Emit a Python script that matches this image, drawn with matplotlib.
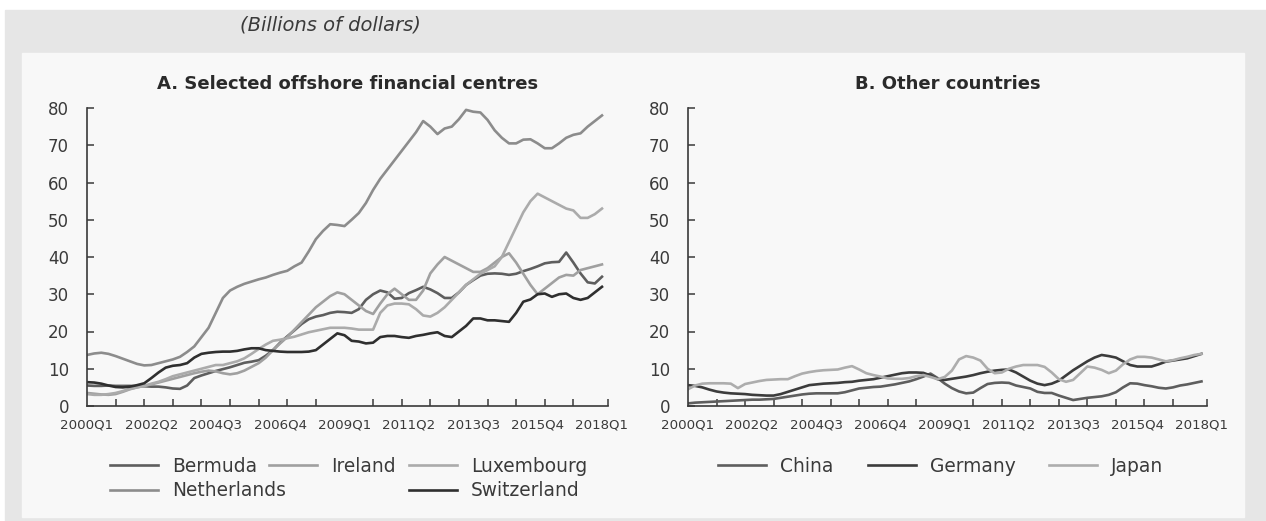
import matplotlib
matplotlib.use("Agg")
import matplotlib.pyplot as plt
from matplotlib.patches import Rectangle
from matplotlib.lines import Line2D

# quarterly, 2000Q1 .. 2018Q1 (73 points)
quarters = [f"{2000 + i // 4}Q{i % 4 + 1}" for i in range(73)]

bermuda = [5.5, 5.4, 5.4, 5.5, 5.4, 5.4, 5.4, 5.3, 5.3, 5.2, 5.2, 5.0, 4.7, 4.6, 5.5,
           7.5, 8.2, 8.8, 9.4, 9.9, 10.4, 11.0, 11.6, 11.9, 12.3, 13.5, 15.0, 17.0, 18.7,
           20.3, 22.0, 23.3, 24.0, 24.4, 25.0, 25.3, 25.2, 25.0, 26.0, 28.5, 30.0, 31.0,
           30.5, 28.8, 29.0, 30.3, 31.1, 32.0, 31.3, 30.3, 29.0, 29.0, 30.5, 32.5, 33.8,
           35.0, 35.5, 35.6, 35.5, 35.2, 35.5, 36.2, 36.8, 37.5, 38.3, 38.6, 38.7, 41.2,
           38.5, 35.6, 33.2, 32.9, 34.7]
ireland = [3.5, 3.3, 3.1, 3.0, 3.2, 3.8, 4.5, 5.0, 5.4, 5.8, 6.3, 6.8, 7.3, 7.8, 8.3,
           8.8, 9.2, 9.5, 9.3, 8.8, 8.5, 8.8, 9.5, 10.5, 11.5, 13.0, 15.0, 16.8, 18.5,
           20.5, 22.5, 24.5, 26.5, 28.0, 29.5, 30.5, 30.0, 28.5, 27.0, 25.5, 24.7, 27.5,
           30.0, 31.5, 30.0, 28.5, 28.5, 31.0, 35.6, 38.0, 40.0, 39.0, 38.0, 37.0, 36.0,
           36.0, 37.0, 38.5, 40.0, 41.0, 38.5, 35.5, 32.5, 30.0, 31.5, 33.0, 34.5, 35.2,
           35.0, 36.5, 37.0, 37.5, 38.0]
luxembourg = [3.2, 3.0, 3.0, 3.2, 3.5, 4.0, 4.6, 5.0, 5.4, 6.0, 6.5, 7.2, 8.0, 8.5, 9.0,
              9.5, 10.0, 10.5, 11.0, 11.0, 11.5, 12.0, 12.8, 14.0, 15.3, 16.5, 17.5, 17.8,
              18.2, 18.6, 19.2, 19.8, 20.2, 20.6, 21.0, 21.0, 21.0, 20.8, 20.5, 20.5, 20.5,
              25.0, 27.0, 27.5, 27.5, 27.3, 26.0, 24.3, 24.0, 25.0, 26.5, 28.5, 30.5, 32.5,
              34.0, 35.5, 36.5, 37.5, 40.0, 44.0, 48.0, 52.0, 55.0, 57.0, 56.0, 55.0, 54.0,
              53.0, 52.5, 50.5, 50.5, 51.5, 53.0]
netherlands = [13.7, 14.1, 14.3, 14.0, 13.4, 12.7, 12.0, 11.3, 10.9, 11.0, 11.5, 12.0, 12.5,
               13.2, 14.5, 16.0, 18.5, 21.0, 25.0, 29.0, 31.0, 32.0, 32.8, 33.4, 34.0, 34.5,
               35.2, 35.8, 36.3, 37.5, 38.5, 41.5, 44.8, 47.0, 48.8, 48.6, 48.3, 50.0, 51.8,
               54.5, 58.0, 61.0, 63.5, 66.0, 68.5, 71.0, 73.5, 76.5, 75.0, 73.0, 74.5, 75.0,
               77.0, 79.5, 79.0, 78.8, 76.8, 74.0, 72.0, 70.5, 70.5, 71.5, 71.6, 70.5, 69.2,
               69.2, 70.5, 72.0, 72.8, 73.2, 75.0, 76.5, 78.0]
switzerland = [6.4, 6.3, 6.0, 5.5, 5.1, 5.0, 5.2, 5.6, 6.1, 7.5, 9.0, 10.3, 10.8, 11.0, 11.5,
               13.0, 14.0, 14.3, 14.5, 14.6, 14.6, 14.8, 15.2, 15.5, 15.5, 15.0, 14.8, 14.6,
               14.5, 14.5, 14.5, 14.6, 15.0, 16.5, 18.0, 19.5, 19.0, 17.5, 17.3, 16.8, 17.0,
               18.5, 18.8, 18.8, 18.5, 18.3, 18.8, 19.1, 19.5, 19.8, 18.8, 18.5, 20.0, 21.5,
               23.5, 23.5, 23.0, 23.0, 22.8, 22.6, 25.0, 28.0, 28.6, 30.0, 30.2, 29.3, 30.0,
               30.2, 29.0, 28.5, 29.0, 30.5, 32.0]

china = [0.7, 0.9, 1.0, 1.1, 1.2, 1.3, 1.4, 1.5, 1.6, 1.7, 1.7, 1.8, 1.9, 2.2, 2.5, 2.8,
         3.1, 3.3, 3.4, 3.4, 3.4, 3.4, 3.7, 4.2, 4.7, 4.9, 5.1, 5.2, 5.5, 5.8, 6.2, 6.6,
         7.2, 7.9, 8.7, 7.5, 6.0, 4.8, 3.9, 3.4, 3.6, 4.8, 5.9, 6.2, 6.3, 6.2, 5.5, 5.1,
         4.7, 3.8, 3.5, 3.5, 2.8, 2.2, 1.6, 1.9, 2.2, 2.4, 2.6, 3.0, 3.7, 5.0, 6.1, 6.0,
         5.6, 5.3, 4.9, 4.7, 5.0, 5.5, 5.8, 6.2, 6.6]
germany = [5.6, 5.4, 5.0, 4.4, 3.9, 3.6, 3.4, 3.3, 3.2, 3.0, 2.9, 2.8, 2.8, 3.2, 3.8, 4.4,
           5.0, 5.6, 5.8, 6.0, 6.1, 6.2, 6.4, 6.5, 6.8, 7.0, 7.2, 7.6, 8.0, 8.4, 8.8, 9.0,
           9.0, 8.9, 8.2, 7.2, 7.0, 7.3, 7.6, 7.9, 8.3, 8.8, 9.2, 9.5, 9.7, 9.8, 9.0, 7.9,
           6.8, 6.0, 5.6, 6.0, 6.8, 8.2, 9.6, 10.8, 12.0, 13.0, 13.7, 13.4, 13.0, 12.0, 11.0,
           10.6, 10.6, 10.6, 11.2, 11.9, 12.2, 12.5, 12.8, 13.4, 14.0]
japan = [4.5, 5.5, 6.0, 6.1, 6.1, 6.1, 6.0, 4.8, 5.9, 6.3, 6.7, 7.0, 7.1, 7.2, 7.2, 8.0,
         8.7, 9.1, 9.4, 9.6, 9.7, 9.8, 10.3, 10.7, 9.8, 8.8, 8.3, 7.9, 7.4, 7.3, 7.3, 7.5,
         8.0, 8.3, 7.8, 7.2, 7.8, 9.5, 12.5, 13.4, 13.0, 12.2, 10.0, 8.8, 9.0, 10.0, 10.6,
         11.0, 11.0, 11.0, 10.5, 9.0, 7.2, 6.5, 7.0, 8.8, 10.6, 10.3, 9.7, 8.8, 9.5, 11.2,
         12.5, 13.2, 13.2, 13.0, 12.5, 12.0, 12.3, 12.8, 13.2, 13.7, 14.0]

panel_a = [("Bermuda", bermuda, "#5e5e5e"), ("Ireland", ireland, "#a0a0a0"),
           ("Luxembourg", luxembourg, "#ababab"), ("Netherlands", netherlands, "#8c8c8c"),
           ("Switzerland", switzerland, "#2f2f2f")]
panel_b = [("China", china, "#5e5e5e"), ("Germany", germany, "#3c3c3c"),
           ("Japan", japan, "#adadad")]

W, H = 1266, 521
plt.rcParams["font.family"] = ["DejaVu Sans"]
fig = plt.figure(figsize=(W / 100, H / 100), dpi=100, facecolor="white")

# background frames (pixel boxes from the top-left corner)
def px_rect(x0, y0, x1, y1, color):
    fig.patches.append(Rectangle((x0 / W, 1 - y1 / H), (x1 - x0) / W, (y1 - y0) / H,
                                 transform=fig.transFigure, color=color, zorder=-10))

px_rect(5, 10, 1266, 521, "#e6e6e6")
px_rect(22, 53, 1244, 517, "#f8f8f8")

fig.text(330 / W, 1 - 25 / H, "(Billions of dollars)", style="italic", fontsize=14,
         color="#3a3a3a", ha="center", va="center")

def draw_panel(left_px, right_px, title, series):
    ax = fig.add_axes([left_px / W, 115 / H, (right_px - left_px) / W, 298 / H])
    ax.set_facecolor("none")
    x = list(range(len(quarters)))
    for name, vals, col in series:
        ax.plot(x, vals, color=col, lw=1.9, solid_joinstyle="round")
    ax.set_xlim(0, 72.8)
    ax.set_ylim(0, 80)
    ax.set_yticks(range(0, 81, 10))
    ax.set_xticks(range(0, 73, 9))
    ax.set_xticklabels([quarters[i] for i in range(0, 73, 9)])
    ax.set_xticks(list(range(0, 73, 4)) + [72.8], minor=True)
    ax.tick_params(axis="x", which="major", length=0, pad=9, labelsize=9.6,
                   labelcolor="#3a3a3a")
    ax.tick_params(axis="x", which="minor", direction="in", length=5, width=1.1,
                   color="#3a3a3a")
    ax.tick_params(axis="y", direction="in", length=5, width=1.1, color="#3a3a3a",
                   pad=13, labelsize=12, labelcolor="#3a3a3a")
    for s in ("top", "right"):
        ax.spines[s].set_visible(False)
    for s in ("left", "bottom"):
        ax.spines[s].set_color("#3a3a3a")
        ax.spines[s].set_linewidth(1.2)
    ax.set_title(title, fontsize=13, fontweight="bold", color="#2a2a2a", pad=14)
    return ax

ax_a = draw_panel(87, 607.7, "A. Selected offshore financial centres", panel_a)
ax_b = draw_panel(688, 1207.2, "B. Other countries", panel_b)

# legend entries placed where the original puts them
def legend_entry(name, color, x_px, y_px):
    h = Line2D([], [], color=color, lw=1.9)
    fig.legend([h], [name], loc="center left", bbox_to_anchor=(x_px / W, 1 - y_px / H),
               frameon=False, borderpad=0, borderaxespad=0, handlelength=2.58,
               handletextpad=0.75, fontsize=13.4, labelcolor="#3a3a3a")

colors = {n: c for n, _, c in panel_a + panel_b}
legend_entry("Bermuda", colors["Bermuda"], 110, 466)
legend_entry("Ireland", colors["Ireland"], 269, 466)
legend_entry("Luxembourg", colors["Luxembourg"], 409, 466)
legend_entry("Netherlands", colors["Netherlands"], 110, 491)
legend_entry("Switzerland", colors["Switzerland"], 409, 491)
legend_entry("China", colors["China"], 718, 466)
legend_entry("Germany", colors["Germany"], 868, 466)
legend_entry("Japan", colors["Japan"], 1049, 466)

fig.savefig("out.png", dpi=100, facecolor=fig.get_facecolor())
